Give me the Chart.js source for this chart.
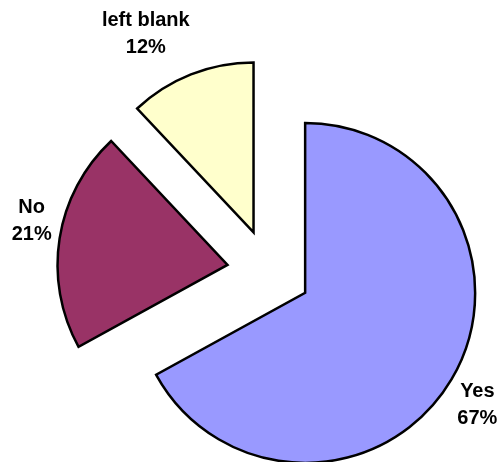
<!DOCTYPE html>
<html>
<head>
<meta charset="utf-8">
<script src="https://cdn.jsdelivr.net/npm/chart.js@4.4.1/dist/chart.umd.min.js"></script>
<style>
  html, body { margin: 0; padding: 0; background: #fff; }
  #wrap { width: 499px; height: 462px; }
</style>
</head>
<body>
<div id="wrap"><canvas id="pieChart" width="499" height="462"></canvas></div>
<script>
const answers = ["Yes", "No", "left blank"];
const answerShare = [67, 21, 12];
const sliceColors = ["#9999FF", "#993366", "#FFFFCC"];

const EXPLODE = 42; // px each slice is pulled out from the middle

// pull every slice away from the middle along its own mid angle
const explodePlugin = {
    id: "explode",
    beforeDatasetsDraw(chart) {
        const area = chart.chartArea;
        const cx = (area.left + area.right) / 2;
        const cy = (area.top + area.bottom) / 2;
        chart.getDatasetMeta(0).data.forEach(arc => {
            const mid = (arc.startAngle + arc.endAngle) / 2;
            arc.x = cx + Math.cos(mid) * EXPLODE;
            arc.y = cy + Math.sin(mid) * EXPLODE;
        });
    }
};

// two line "name / nn%" labels just outside each slice
const labelPlugin = {
    id: "sliceLabels",
    afterDatasetsDraw(chart, args, opts) {
        const ctx = chart.ctx;
        const meta = chart.getDatasetMeta(0);
        const values = chart.data.datasets[0].data;
        const total = values.reduce((a, b) => a + b, 0);
        ctx.save();
        ctx.font = "bold " + opts.size + "px 'Liberation Sans', Arial, sans-serif";
        ctx.fillStyle = "#000";
        ctx.textAlign = "center";
        ctx.textBaseline = "middle";
        meta.data.forEach((arc, i) => {
            const lines = [chart.data.labels[i], Math.round(values[i] / total * 100) + "%"];
            const halfW = Math.max(...lines.map(t => ctx.measureText(t).width)) / 2;
            const halfH = (opts.lineHeight * (lines.length - 1) + opts.size * 0.72) / 2;
            const mid = (arc.startAngle + arc.endAngle) / 2;
            const dx = Math.cos(mid), dy = Math.sin(mid);
            // distance from box centre to its edge along the mid angle
            const t = Math.min(halfW / Math.abs(dx || 1e-6), halfH / Math.abs(dy || 1e-6));
            const d = arc.outerRadius + opts.gap + t;
            const nudge = opts.nudge[i] || [0, 0];
            const x = arc.x + dx * d + nudge[0];
            const y = arc.y + dy * d + nudge[1] - opts.lineHeight * (lines.length - 1) / 2;
            lines.forEach((line, k) => ctx.fillText(line, x, y + k * opts.lineHeight));
        });
        ctx.restore();
    }
};

new Chart(document.getElementById("pieChart"), {
    type: "pie",
    data: {
        labels: answers,
        datasets: [{
            data: answerShare,
            backgroundColor: sliceColors,
            borderColor: "#000000",
            borderWidth: 2.5,
            borderJoinStyle: "miter"
        }]
    },
    options: {
        responsive: false,
        animation: false,
        radius: 170,
        layout: {
            padding: { left: 39, top: 81, right: 0, bottom: 0 }
        },
        plugins: {
            legend: { display: false },
            tooltip: { enabled: false },
            sliceLabels: {
                size: 20,
                lineHeight: 27,
                gap: 8,
                nudge: [[-1, 10], [0, -13], [-34, -12]]
            }
        }
    },
    plugins: [explodePlugin, labelPlugin]
});
</script>
</body>
</html>
